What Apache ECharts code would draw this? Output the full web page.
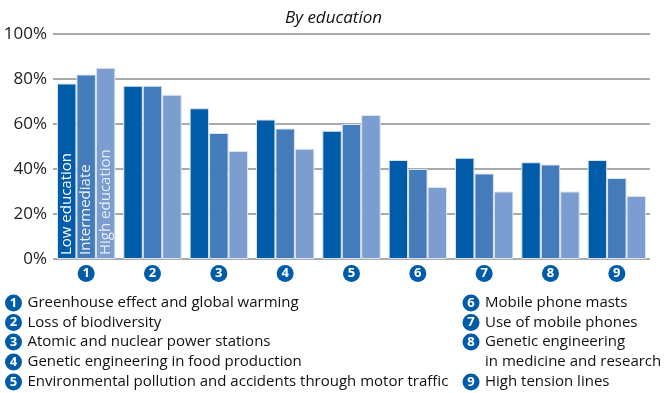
<!DOCTYPE html>
<html><head><meta charset="utf-8">
<script src="https://cdn.jsdelivr.net/npm/echarts@6/dist/echarts.min.js"></script>
<style>html,body{margin:0;padding:0;background:#fff}#c{width:667px;height:393px}</style>
</head><body><div id="c"></div>
<script>
const categories = ['1','2','3','4','5','6','7','8','9'];
const seriesNames = ['Low education','Intermediate','High education'];
const lowEdu = [78,77,67,62,57,44,45,43,44];
const interEdu = [82,77,56,58,60,40,38,42,36];
const highEdu = [85,73,48,49,64,32,30,30,28];
const yTicks = [0,20,40,60,80,100];
const legendLeft = ['Greenhouse effect and global warming','Loss of biodiversity','Atomic and nuclear power stations','Genetic engineering in food production','Environmental pollution and accidents through motor traffic'];
const legendRight = ['Mobile phone masts','Use of mobile phones','Genetic engineering\nin medicine and research','High tension lines'];

const FONT = '"Open Sans", sans-serif';
const colors = ['#005ca8','#447bbb','#7b9dd0'];
const labelColors = ['#ffffff','#f0f4fa','#e6edf7'];
const chart = echarts.init(document.getElementById('c'));

function mkSeries(name, data, i){
  return {
    name, type:'bar', data: data.map((v,k)=> k===0 ? {value:v, label:{show:true}} : v),
    barGap:'0%', barCategoryGap:'12%',
    itemStyle:{color:colors[i], borderColor:'#dbe5f2', borderWidth:1},
    label:{show:false, position:'insideBottom', rotate:90, align:'left', verticalAlign:'middle',
      distance:4, formatter: name, color:labelColors[i], fontSize:15, fontFamily:FONT},
    animation:false
  };
}

const graphics = [];
function legendItem(x, y, num, text){
  graphics.push({type:'circle', shape:{cx:x, cy:y, r:8.5}, style:{fill:'#005ca8'}});
  graphics.push({type:'text', x:x, y:y, style:{text:num, fill:'#fff', font:'bold 13px '+FONT, align:'center', verticalAlign:'middle'}});
  graphics.push({type:'text', x:x+14, y:y-10, style:{text:text, fill:'#111', font:'15px '+FONT, lineHeight:20, verticalAlign:'top'}});
}
const rowY = [303,322.5,342,362,382];
legendLeft.forEach((t,i)=>legendItem(13.5, rowY[i], categories[i], t));
const rightRows = [0,1,2,4];
legendRight.forEach((t,i)=>legendItem(471, rowY[rightRows[i]], categories[i+5], t));

chart.setOption({
  animation:false,
  title:{text:'By education', left:'center', top:5, textStyle:{fontStyle:'italic', fontWeight:'normal', fontSize:17, color:'#111', fontFamily:FONT}},
  grid:{left:53, right:17, top:34, bottom:134},
  xAxis:{type:'category', data:categories, axisLine:{show:false}, axisTick:{show:false},
    axisLabel:{margin:6, formatter: v=>'{c|'+v+'}', rich:{c:{width:17,height:17,lineHeight:17,borderRadius:8.5,backgroundColor:'#005ca8',color:'#fff',fontWeight:'bold',fontSize:13,align:'center',fontFamily:FONT}}}},
  yAxis:{type:'value', min:yTicks[0], max:yTicks[yTicks.length-1], interval:20,
    axisLabel:{formatter:'{value}%', fontSize:17, color:'#222', margin:6, fontFamily:FONT},
    splitLine:{lineStyle:{color:'#aaaaaa', width:2}}},
  series:[mkSeries(seriesNames[0], lowEdu, 0), mkSeries(seriesNames[1], interEdu, 1), mkSeries(seriesNames[2], highEdu, 2)],
  graphic: graphics
});
</script></body></html>
